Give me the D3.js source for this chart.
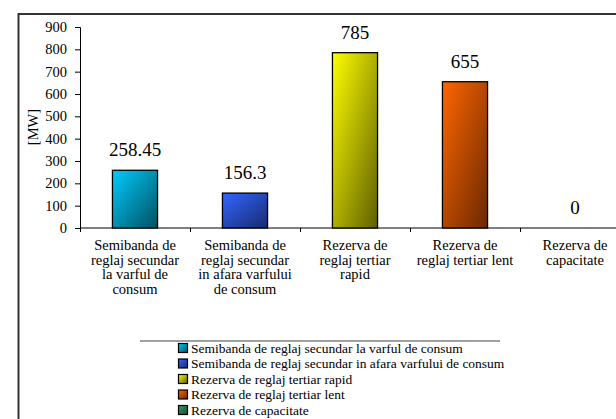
<!DOCTYPE html>
<meta charset="utf-8">
<script src="https://d3js.org/d3.v7.min.js"></script>
<style>
body { margin: 0; background: #fff; }
svg text { fill: #000; }
</style>
<body>
<svg width="616" height="419"></svg>
<script>
let categories = [
    ['Semibanda de', 'reglaj secundar', 'la varful de', 'consum'],
    ['Semibanda de', 'reglaj secundar', 'in afara varfului', 'de consum'],
    ['Rezerva de', 'reglaj tertiar', 'rapid'],
    ['Rezerva de', 'reglaj tertiar lent'],
    ['Rezerva de', 'capacitate']
]
let values = [258.45, 156.3, 785, 655, 0]
let valueLabels = ['258.45', '156.3', '785', '655', '0']
let legendNames = [
    'Semibanda de reglaj secundar la varful de consum',
    'Semibanda de reglaj secundar in afara varfului de consum',
    'Rezerva de reglaj tertiar rapid',
    'Rezerva de reglaj tertiar lent',
    'Rezerva de capacitate'
]
let yTicks = [0, 100, 200, 300, 400, 500, 600, 700, 800, 900]

let colorsLight = ['#00ccff', '#3366ff', '#ffff00', '#ff6600', '#339966']
let colorsDark = ['#00505f', '#172a70', '#5f5f00', '#6a2800', '#1a4d33']

let serif = "'Times New Roman', Times, 'Liberation Serif', serif"

let svg = d3.select('svg'),
    defs = svg.append('defs')

let grads = defs.selectAll('linearGradient').data(colorsLight).enter().append('linearGradient')
    .attr('id', (d, i) => 'g' + i)
    .attr('x1', '0%').attr('y1', '0%').attr('x2', '100%').attr('y2', '100%')
grads.append('stop').attr('offset', '0%').attr('stop-color', d => d)
grads.append('stop').attr('offset', '100%').attr('stop-color', (d, i) => colorsDark[i])

// outer frame (cropped on right/bottom)
svg.append('path')
    .attr('d', 'M18.5,419 L18.5,14 L616,14')
    .attr('fill', 'none').attr('stroke', '#333').attr('stroke-width', 2)

let x = d3.scaleBand().domain(d3.range(5)).range([80, 630]).paddingInner(0.59).paddingOuter(0.295),
    y = d3.scaleLinear().domain([0, 900]).range([228, 27])

// y axis
let ya = svg.append('g').attr('transform', 'translate(80,0)')
    .call(d3.axisLeft(y).tickValues(yTicks).tickSize(5).tickPadding(8))
ya.attr('font-family', serif).attr('font-size', 14.5)
ya.select('.domain').attr('stroke', '#000')
ya.selectAll('.tick line').attr('stroke', '#000')

// x axis line with ticks at category boundaries
let xb = d3.scaleLinear().domain([0, 5]).range([80, 630])
let xa = svg.append('g').attr('transform', 'translate(0,228)')
    .call(d3.axisBottom(xb).ticks(5).tickSize(4).tickFormat(''))
xa.select('.domain').attr('d', 'M80,0H630').attr('stroke', '#000')
xa.selectAll('.tick line').attr('stroke', '#000')

svg.append('text')
    .attr('transform', 'translate(38,127) rotate(-90)')
    .attr('text-anchor', 'middle')
    .attr('font-family', serif)
    .attr('font-size', 14.5)
    .text('[MW]')

// bars
svg.selectAll('rect.bar').data(values).enter().append('rect')
    .attr('class', 'bar')
    .attr('x', (d, i) => x(i))
    .attr('width', x.bandwidth())
    .attr('y', d => y(d))
    .attr('height', d => y(0) - y(d))
    .attr('fill', (d, i) => `url(#g${i})`)
    .attr('stroke', '#000').attr('stroke-width', 1.3)
    .style('display', d => d > 0 ? null : 'none')

svg.selectAll('text.val').data(values).enter().append('text')
    .attr('class', 'val')
    .attr('x', (d, i) => x(i) + x.bandwidth() / 2)
    .attr('y', d => y(d) - 14)
    .attr('text-anchor', 'middle')
    .attr('font-family', serif)
    .attr('font-size', 19)
    .text((d, i) => valueLabels[i])

// category labels
let cl = svg.selectAll('text.cat').data(categories).enter().append('text')
    .attr('class', 'cat')
    .attr('text-anchor', 'middle')
    .attr('font-family', serif)
    .attr('font-size', 14.5)
cl.selectAll('tspan').data((d, i) => d.map(t => [t, i])).enter().append('tspan')
    .attr('x', d => x(d[1]) + x.bandwidth() / 2)
    .attr('y', (d, j) => 250 + j * 14.7)
    .text(d => d[0])

// legend
svg.append('line')
    .attr('x1', 140).attr('x2', 500).attr('y1', 341).attr('y2', 341)
    .attr('stroke', '#808080').attr('stroke-width', 1.5)

let lg = svg.selectAll('g.leg').data(legendNames).enter().append('g')
    .attr('class', 'leg')
    .attr('transform', (d, i) => `translate(178,${348 + i * 15.5})`)
lg.append('rect')
    .attr('x', 0.5).attr('y', -4.5).attr('width', 9).attr('height', 9)
    .attr('fill', (d, i) => `url(#g${i})`)
    .attr('stroke', '#000').attr('stroke-width', 1.2)
lg.append('text')
    .attr('x', 13).attr('y', 4.5)
    .attr('font-family', serif)
    .attr('font-size', 13.5)
    .text(d => d)
</script>
</body>
